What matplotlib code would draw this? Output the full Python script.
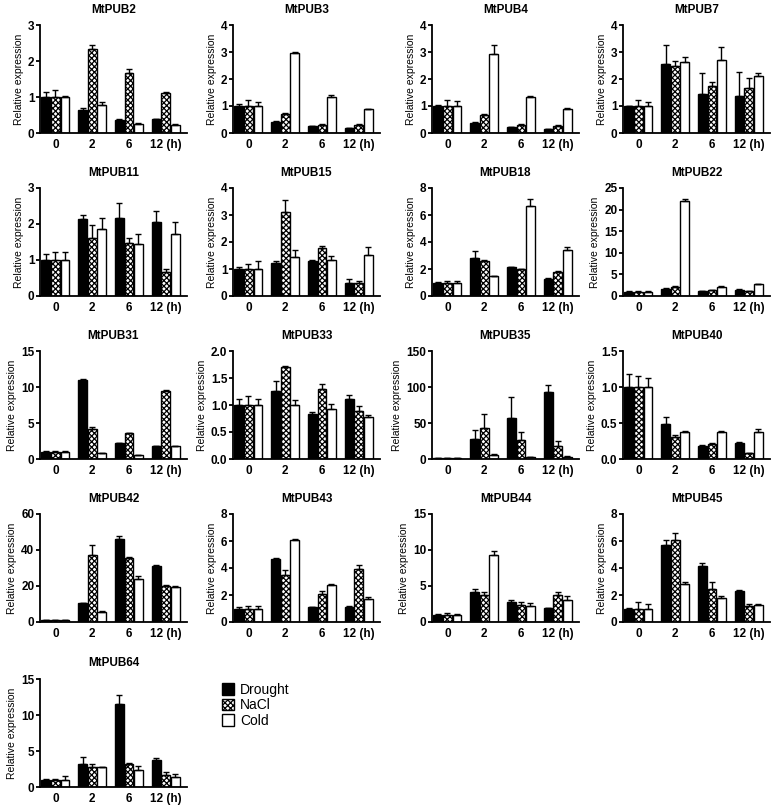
import matplotlib
matplotlib.use("Agg")
import matplotlib.pyplot as plt
import numpy as np
from matplotlib.patches import Patch

plt.rcParams["font.family"] = ["Liberation Sans", "DejaVu Sans"]
plt.rcParams["hatch.linewidth"] = 0.9

# time points (h)
times = ["0", "2", "6", "12 (h)"]

genes = ["MtPUB2", "MtPUB3", "MtPUB4", "MtPUB7",
         "MtPUB11", "MtPUB15", "MtPUB18", "MtPUB22",
         "MtPUB31", "MtPUB33", "MtPUB35", "MtPUB40",
         "MtPUB42", "MtPUB43", "MtPUB44", "MtPUB45",
         "MtPUB64"]

# y-axis max and tick step for each panel
y_max = [3, 4, 4, 4, 3, 4, 8, 25, 15, 2.0, 150, 1.5, 60, 8, 15, 8, 15]
y_step = [1, 1, 1, 1, 1, 1, 2, 5, 5, 0.5, 50, 0.5, 20, 2, 5, 2, 5]

# mean values, one row per gene: 0, 2, 6, 12 h
drought = [
    [1.0, 0.65, 0.37, 0.38],
    [1.0, 0.42, 0.25, 0.18],
    [1.0, 0.38, 0.22, 0.13],
    [1.0, 2.57, 1.45, 1.37],
    [1.0, 2.13, 2.18, 2.05],
    [1.0, 1.22, 1.30, 0.50],
    [1.0, 2.85, 2.13, 1.28],
    [1.0, 1.65, 1.10, 1.45],
    [1.0, 11.0, 2.20, 1.75],
    [1.0, 1.26, 0.83, 1.11],
    [1.0, 28.0, 57.0, 93.0],
    [1.0, 0.49, 0.18, 0.22],
    [1.0, 10.3, 46.0, 31.0],
    [1.0, 4.65, 1.10, 1.10],
    [1.0, 4.20, 2.80, 1.90],
    [1.0, 5.70, 4.15, 2.30],
    [1.0, 3.20, 11.5, 3.80],
]
nacl = [
    [1.0, 2.33, 1.67, 1.10],
    [1.0, 0.72, 0.30, 0.30],
    [1.0, 0.67, 0.30, 0.27],
    [1.0, 2.48, 1.75, 1.65],
    [1.0, 1.60, 1.48, 0.68],
    [1.0, 3.12, 1.77, 0.48],
    [1.0, 2.60, 2.00, 1.80],
    [1.0, 2.10, 1.40, 1.10],
    [1.0, 4.20, 3.55, 9.40],
    [1.0, 1.70, 1.30, 0.89],
    [1.0, 43.0, 27.0, 18.0],
    [1.0, 0.30, 0.21, 0.08],
    [1.0, 37.0, 35.3, 20.0],
    [1.0, 3.45, 2.05, 3.95],
    [1.0, 3.70, 2.40, 3.80],
    [1.0, 6.05, 2.45, 1.15],
    [1.0, 2.75, 3.20, 1.60],
]
cold = [
    [1.0, 0.77, 0.25, 0.22],
    [1.0, 2.97, 1.35, 0.88],
    [1.0, 2.92, 1.33, 0.90],
    [1.0, 2.63, 2.70, 2.12],
    [1.0, 1.85, 1.45, 1.72],
    [1.0, 1.45, 1.33, 1.52],
    [1.0, 1.45, 6.65, 3.40],
    [1.0, 22.0, 2.00, 2.70],
    [1.0, 0.80, 0.55, 1.80],
    [1.0, 1.00, 0.92, 0.77],
    [1.0, 5.0, 2.5, 3.0],
    [1.0, 0.38, 0.37, 0.38],
    [1.0, 5.5, 24.0, 19.3],
    [1.0, 6.05, 2.75, 1.70],
    [1.0, 9.30, 2.25, 3.00],
    [1.0, 2.80, 1.75, 1.25],
    [1.0, 2.80, 2.35, 1.35],
]

# error bars (upper only)
drought_err = [
    [0.15, 0.05, 0.02, 0.02],
    [0.08, 0.02, 0.02, 0.01],
    [0.03, 0.01, 0.01, 0.01],
    [0.0, 0.68, 0.78, 0.90],
    [0.17, 0.12, 0.40, 0.30],
    [0.08, 0.06, 0.03, 0.12],
    [0.05, 0.50, 0.05, 0.05],
    [0.1, 0.10, 0.10, 0.10],
    [0.05, 0.15, 0.05, 0.05],
    [0.12, 0.18, 0.04, 0.07],
    [0.5, 12.0, 29.0, 10.0],
    [0.18, 0.10, 0.01, 0.01],
    [0.3, 0.5, 2.0, 0.5],
    [0.08, 0.10, 0.03, 0.05],
    [0.15, 0.40, 0.25, 0.05],
    [0.03, 0.40, 0.20, 0.05],
    [0.10, 1.00, 1.30, 0.20],
]
nacl_err = [
    [0.20, 0.12, 0.12, 0.03],
    [0.22, 0.03, 0.02, 0.02],
    [0.22, 0.03, 0.02, 0.02],
    [0.22, 0.17, 0.15, 0.37],
    [0.23, 0.38, 0.12, 0.08],
    [0.20, 0.42, 0.08, 0.07],
    [0.10, 0.10, 0.03, 0.05],
    [0.10, 0.20, 0.10, 0.10],
    [0.10, 0.30, 0.10, 0.15],
    [0.17, 0.03, 0.09, 0.10],
    [0.5, 19.0, 11.0, 7.0],
    [0.15, 0.03, 0.01, 0.01],
    [0.3, 6.0, 0.8, 0.8],
    [0.22, 0.38, 0.22, 0.25],
    [0.20, 0.40, 0.40, 0.35],
    [0.50, 0.55, 0.50, 0.15],
    [0.05, 0.50, 0.20, 0.50],
]
cold_err = [
    [0.03, 0.10, 0.02, 0.02],
    [0.15, 0.03, 0.04, 0.02],
    [0.20, 0.33, 0.05, 0.03],
    [0.15, 0.20, 0.47, 0.10],
    [0.23, 0.33, 0.28, 0.33],
    [0.28, 0.25, 0.17, 0.28],
    [0.10, 0.05, 0.55, 0.22],
    [0.10, 0.50, 0.20, 0.10],
    [0.05, 0.03, 0.03, 0.05],
    [0.12, 0.10, 0.10, 0.04],
    [0.5, 1.5, 0.8, 0.8],
    [0.12, 0.005, 0.02, 0.03],
    [0.3, 0.5, 1.5, 0.5],
    [0.20, 0.10, 0.06, 0.18],
    [0.10, 0.50, 0.35, 0.55],
    [0.30, 0.20, 0.15, 0.05],
    [0.50, 0.02, 0.60, 0.40],
]


def main():
    fig = plt.figure(figsize=(7.8, 8.06), dpi=100)
    W, H = 780.0, 806.0

    col_left = [40, 233, 432, 623]
    row_top = [25, 188, 351, 514, 679]
    ax_w, ax_h = 147, 108

    x = np.arange(len(times))
    bw = 0.24
    styles = [
        dict(color="black", edgecolor="black"),
        dict(color="white", edgecolor="black", hatch="xxxxxx"),
        dict(color="white", edgecolor="black"),
    ]
    series = [(drought, drought_err), (nacl, nacl_err), (cold, cold_err)]

    for i, gene in enumerate(genes):
        r, c = divmod(i, 4)
        left = col_left[c] / W
        bottom = 1 - (row_top[r] + ax_h) / H
        ax = fig.add_axes([left, bottom, ax_w / W, ax_h / H])

        for k, (vals, errs) in enumerate(series):
            v = np.array(vals[i])
            e = np.array(errs[i])
            pos = x + (k - 1) * (bw + 0.02)
            ax.bar(pos, v, bw, linewidth=1.0, zorder=2, **styles[k])
            ax.errorbar(pos, v, yerr=[np.zeros_like(e), e], fmt="none",
                        ecolor="black", elinewidth=1.0, capsize=2.5,
                        capthick=1.0, zorder=3)

        ax.set_xlim(-0.42, 3.58)
        ax.set_ylim(0, y_max[i])
        ax.set_yticks(np.arange(0, y_max[i] + y_step[i] / 2, y_step[i]))
        if y_step[i] < 1:
            ax.set_yticklabels([f"{t:.1f}" for t in ax.get_yticks()])
        ax.set_xticks(x)
        ax.set_xticklabels(times)

        for s in ["top", "right"]:
            ax.spines[s].set_visible(False)
        for s in ["left", "bottom"]:
            ax.spines[s].set_linewidth(1.3)
        ax.tick_params(axis="y", direction="out", length=3, width=1.3,
                       labelsize=8.5, pad=1)
        ax.tick_params(axis="x", length=0, labelsize=8.5, pad=4)
        for lab in ax.get_xticklabels() + ax.get_yticklabels():
            lab.set_fontweight("bold")

        ax.set_ylabel("Relative expression", fontsize=7.5, labelpad=3)
        ax.set_title(gene, fontsize=8.5, fontweight="bold", pad=9)

    handles = [
        Patch(facecolor="black", edgecolor="black", label="Drought"),
        Patch(facecolor="white", edgecolor="black", hatch="xxxxxx", label="NaCl"),
        Patch(facecolor="white", edgecolor="black", label="Cold"),
    ]
    fig.legend(handles=handles, loc="upper left",
               bbox_to_anchor=(215 / W, 1 - 676 / H), frameon=False,
               fontsize=10, handlelength=0.9, handleheight=0.9,
               handletextpad=0.4, labelspacing=0.1, borderpad=0)

    fig.savefig("out.png", dpi=100)


if __name__ == "__main__":
    main()
